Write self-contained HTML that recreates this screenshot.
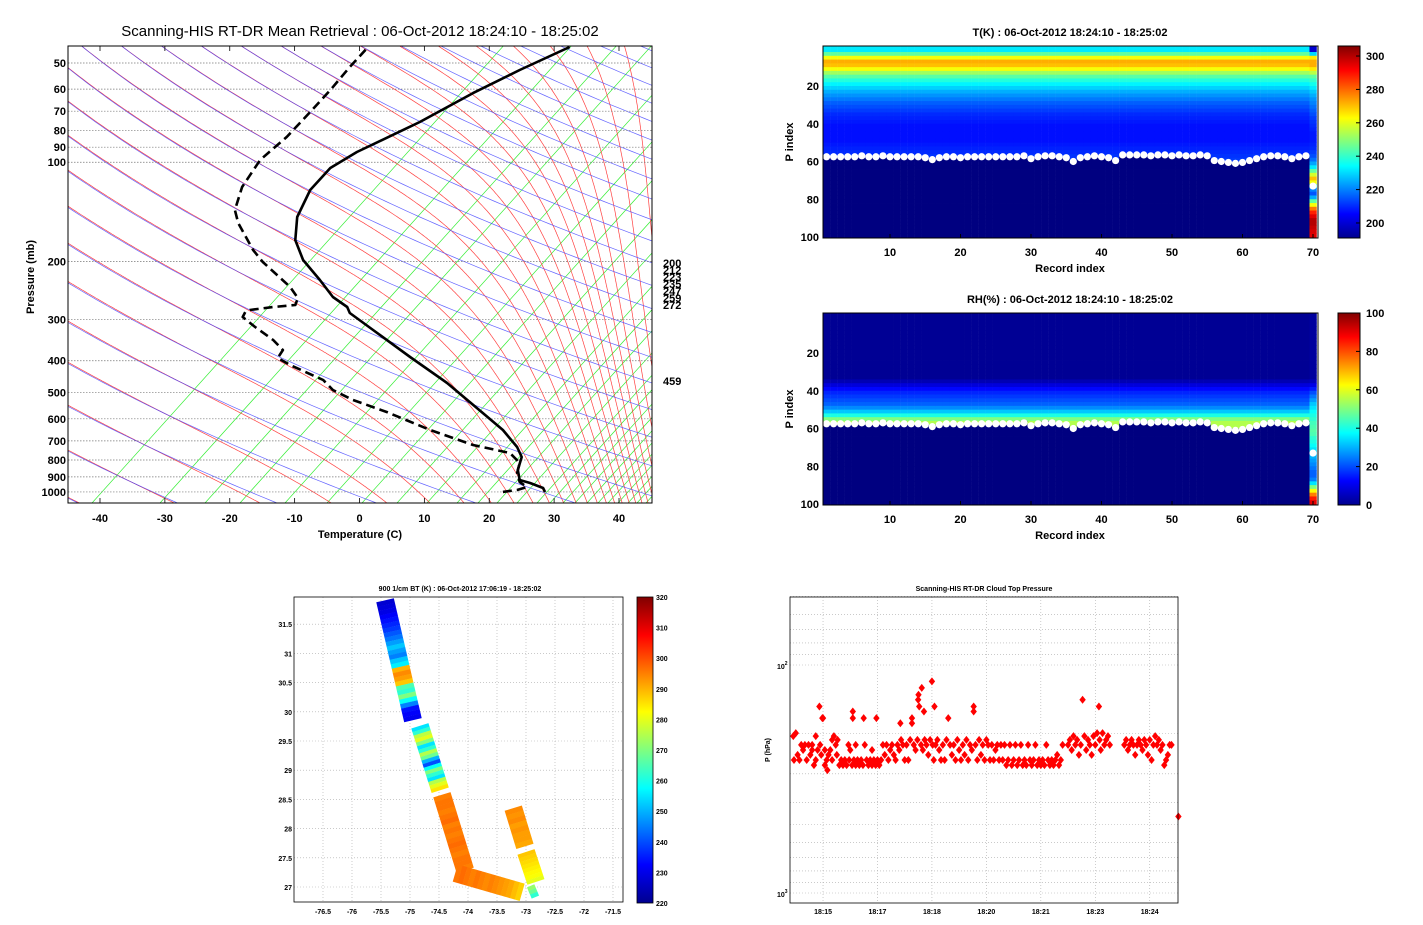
<!DOCTYPE html>
<html><head><meta charset="utf-8">
<style>
html,body{margin:0;padding:0;background:#fff;}
svg{display:block;font-family:"Liberation Sans",sans-serif;}
.tk{font-size:11px;font-weight:bold;fill:#000;}
.sm{font-size:7px;font-weight:bold;fill:#000;}
</style></head>
<body>
<svg id="fig" width="1423" height="925" viewBox="0 0 1423 925" xmlns="http://www.w3.org/2000/svg">
<defs>
<linearGradient id="jet" x1="0" y1="1" x2="0" y2="0">
<stop offset="0" stop-color="#00008f"/><stop offset="0.125" stop-color="#0000ff"/><stop offset="0.375" stop-color="#00ffff"/><stop offset="0.625" stop-color="#ffff00"/><stop offset="0.875" stop-color="#ff0000"/><stop offset="1" stop-color="#800000"/>
</linearGradient>
<clipPath id="cSkew"><rect x="68" y="46" width="584" height="457"/></clipPath>
<clipPath id="cMap"><rect x="294" y="597" width="329" height="305"/></clipPath>
</defs>
<text x="360" y="36" text-anchor="middle" font-size="15">Scanning-HIS RT-DR Mean Retrieval : 06-Oct-2012 18:24:10 - 18:25:02</text>
<g id="skew"></g>
<g id="theat"></g>
<g id="rhheat"></g>
<g id="map"></g>
<g id="ctp"></g>
</svg>
<script>
// ---------- DATA ----------
// Skew-T: pressure (mb) and plotted temperature axis value (C)
const tempP = [1000,972.8,939.2,919.7,857.9,783.4,730.7,648.9,576.3,467.2,389.7,322.7,286.6,274.8,256.3,227.6,197.9,172.2,146.6,121.4,104.1,93.1,75.5,61.7,52.5,44.7];
const tempT = [28.6,28.3,26.3,24.7,24.4,25.0,24.3,22.1,19.0,13.5,7.8,2.1,-1.5,-1.9,-4.1,-6.1,-8.7,-9.9,-9.6,-7.6,-4.5,-0.4,9.3,17.5,24.7,32.4];
const dewP = [1000,986.5,966,932.6,876.1,817,762,720.6,648.9,572.3,526.3,490.8,457.5,412.1,392.5,371.1,346,316,294.7,284.6,280.7,274.8,271,258.1,238.9,200.7,184.6,152.9,139.6,118.9,98.4,83.8,70.4,60.4,51.4,45];
const dewT = [22.1,24.3,25.8,24.7,24.3,24.7,23.2,17.5,10.9,4.2,-1.0,-4.1,-5.6,-10.7,-12.6,-11.8,-13.3,-16.1,-18.0,-17.6,-16.9,-13.3,-9.9,-9.5,-10.7,-14.9,-16.4,-18.7,-19.2,-18.1,-15.3,-11.2,-7.6,-4.5,-1.5,1.2];
const pTicks = [50,60,70,80,90,100,200,300,400,500,600,700,800,900,1000];
const tTicks = [-40,-30,-20,-10,0,10,20,30,40];
const sideLabels = ["200","212","223","235","247","259","272"];
// T heatmap: temperature (K) per pair of P-index rows (rows 1-2, 3-4, ...)
const tProfile = [232,245,262,272,270,262,252,244,238,233,229,225,222,219,216,214,212,210,209,208,207,207,207,207,207,208,209,210,211,212];
// cloud-top P index per record 1..70
const cloudTop = [57.5,57.5,57.5,57.5,57.5,57,57.5,57.5,57,57.5,57.5,57.5,57.5,57.5,58,59,58,57.5,57.5,58,57.5,57.5,57.5,57.5,57.5,57.5,57.5,57.5,57,58.5,57.5,57,57,57.5,58,60,58,57.5,57,57.5,58,59.5,56.5,56.5,56.5,56.5,57,56.5,56.5,57,56.5,57,57,56.5,57,59.5,60,60.5,61,60.5,59.5,58.5,57.5,57,57,57.5,58.5,57.5,57,73];
// last record T profile (K) per pair of rows
const tLastCol = [200,230,265,272,272,265,255,245,240,236,232,228,225,222,220,218,216,214,212,211,210,209,208,208,208,209,210,212,214,218,224,232,245,258,270,262,240,220,215,225,245,262,278,288,295,300,300,298,296,295];
// RH (%) per pair of rows
const rhProfile = [2,2,2,2,2,2,2,2,2,2,2,2,2,2,2,2,2,5,9,13,16,18,20,22,26,32,40,50,55,55];
const rhLastCol = [3,3,3,3,3,3,3,3,3,3,3,3,3,3,3,3,3,6,10,15,20,24,28,32,35,38,40,42,44,45,46,45,42,40,38,35,32,30,28,26,24,22,22,25,35,50,62,75,85,90];
const recTicks = [10,20,30,40,50,60,70];
const pIdxTicks = [20,40,60,80,100];
// BT map: strips (lon/lat endpoints) and BT values (K) along each strip
const stripStart = [[-75.43,31.91],[-74.83,29.76],[-74.45,28.58],[-74.22,27.24],[-73.22,28.35],[-73.0,27.6],[-72.92,27.02]];
const stripEnd = [[-74.95,29.86],[-74.48,28.66],[-74.05,27.29],[-73.07,26.91],[-73.02,27.70],[-72.83,27.09],[-72.84,26.83]];
const stripBT = [
 [228,229,230,232,234,236,238,241,244,248,252,248,245,252,256,290,294,292,288,265,262,270,258,245,234,232,231],
 [255,262,276,280,270,255,262,275,268,250,240,258,270,262,255,275,280,285],
 [295,296,296,295,296,297,295,296,295,296,297,296,295,296,296,295],
 [296,297,296,295,296,295,294,295,294,293,292,291,289,287],
 [294,293,294,292,293,292,292,291],
 [288,287,286,285,284,283,282,280],
 [272,268,262]];
const lonTicks = [-76.5,-76,-75.5,-75,-74.5,-74,-73.5,-73,-72.5,-72,-71.5];
const latTicks = [27,27.5,28,28.5,29,29.5,30,30.5,31,31.5];
const btTicks = [220,230,240,250,260,270,280,290,300,310,320];
// Cloud top pressure: time (minutes after 18:00) and pressure (hPa)
const ctpTime = [14.18,14.25,14.2,14.3,14.35,14.4,14.45,14.5,14.55,14.6,14.65,14.7,14.75,14.7,14.8,14.8,14.85,14.9,14.92,14.95,14.98,15.0,15.05,15.05,15.1,15.12,15.15,15.2,15.25,15.25,15.3,15.35,15.38,15.4,
15.45,15.5,15.55,15.6,15.65,15.7,15.72,15.75,15.8,15.82,15.82,15.85,15.9,15.9,15.95,16.0,16.05,16.1,16.12,16.15,16.2,16.25,16.3,16.35,16.35,16.4,16.45,16.47,16.5,16.55,16.6,
16.65,16.7,16.75,16.8,16.85,16.9,16.95,17.0,17.05,17.1,17.13,17.15,17.2,17.25,17.3,17.35,17.4,17.45,17.45,17.5,17.55,17.6,17.62,17.63,17.65,17.7,17.72,17.75,17.78,17.8,17.85,17.9,17.95,18.0,18.02,18.05,18.07,18.1,18.15,18.2,18.25,
18.3,18.35,18.4,18.45,18.5,18.55,18.6,18.65,18.7,18.75,18.8,18.85,18.9,18.95,19.0,19.05,19.1,19.15,19.15,19.2,19.25,19.3,19.35,19.4,19.45,19.5,19.55,19.6,19.65,19.7,19.75,19.8,19.85,19.9,
19.95,20.0,20.05,20.1,20.15,20.2,20.25,20.3,20.35,20.4,20.45,20.5,20.55,20.6,20.65,20.7,20.75,20.8,20.85,20.9,20.95,21.0,21.05,21.1,21.15,21.2,21.25,21.3,21.35,21.4,21.45,21.5,21.55,21.6,
21.75,21.8,21.85,21.9,21.95,22.0,22.05,22.1,22.15,22.2,22.25,22.3,22.35,22.4,22.45,22.5,22.55,22.6,22.62,22.65,22.7,22.75,22.8,22.85,22.9,
23.3,23.35,23.4,23.45,23.5,23.55,23.6,23.65,23.7,23.75,23.8,23.85,23.9,23.95,24.0,24.05,24.1,24.15,24.2,24.25,24.3,24.35,24.4,24.45,24.5,24.55,24.6,24.79];
const ctpPres = [205,199,261,248,261,224,236,224,261,224,248,236,275,224,205,261,236,152,224,248,171,171,275,236,261,289,248,236,261,213,205,224,248,213,
275,261,275,261,275,224,261,236,275,171,160,261,224,275,261,275,261,275,171,224,261,275,261,275,236,261,275,171,261,275,261,
224,248,224,261,236,224,248,261,224,236,180,213,224,261,224,261,213,171,180,224,236,213,142,135,152,224,126,236,160,213,224,248,213,118,224,261,152,224,213,236,261,
224,261,213,171,224,248,224,261,213,236,261,224,248,213,261,224,236,152,160,224,261,213,248,224,261,213,224,261,224,261,236,224,261,224,
261,224,275,261,224,275,261,224,275,261,224,275,261,275,224,261,275,261,224,275,261,275,261,275,224,261,275,261,275,261,248,275,261,224,
224,213,236,205,224,213,248,224,142,205,236,213,224,248,205,224,199,152,213,236,199,224,213,205,224,
224,213,236,224,213,224,248,224,213,224,236,213,224,248,213,261,224,205,224,213,236,224,275,261,248,224,224,462];
const timeTicks = [15,16.5,18,19.5,21,22.5,24];
const timeTickLabels = ["18:15","18:17","18:18","18:20","18:21","18:23","18:24"];

// ---------- HELPERS ----------
const NS="http://www.w3.org/2000/svg";
function mk(parent,tag,attrs){const e=document.createElementNS(NS,tag);for(const k in attrs)e.setAttribute(k,attrs[k]);parent.appendChild(e);return e;}
function jet(t){t=Math.max(0,Math.min(1,t));const c=v=>Math.round(255*Math.max(0,Math.min(1,v)));
 return `rgb(${c(1.5-Math.abs(4*t-3))},${c(1.5-Math.abs(4*t-2))},${c(1.5-Math.abs(4*t-1))})`;}

// ---------- SKEW-T ----------
const sk=document.getElementById('skew');
const SKEW=47;
const sx=t=>100+(t+40)*6.4875;
const sy=p=>63+329.7*(Math.log10(p)-Math.log10(50));
const plotX=(T,p)=>sx(T+SKEW*Math.log10(1000/p));
const bg=mk(sk,'g',{'clip-path':'url(#cSkew)'});


const pres=[];for(let lp=Math.log10(1090);lp>=Math.log10(42);lp-=0.01)pres.push(Math.pow(10,lp));
// green isotherm-like guide lines, positions at bottom edge
const gBottom=[92,160,205,240,285,327,362,397,427,457,478,497,517,537,550,563,575,587,598,608,618,628,637,646,655,664,673,682,691,700];
gBottom.forEach(xb=>{
 const d=`M${xb},503L${xb+0.9*460},43`;
 const l=mk(bg,'path',{d:d,stroke:'#33ee33','stroke-width':0.7,fill:'none'});
 
 
});
// moist adiabats: start at top coinciding with each dry adiabat, integrate downward
function es(Tc){return 6.112*Math.exp(17.67*Tc/(Tc+243.5));}
function rs(Tk,p){const e=es(Tk-273.15);return 0.622*e/(p-e);}
function dTdp(Tk,p){const r=rs(Tk,p);return (287*Tk+2.5e6*r)/(p*(1004+2.5e6*2.5e6*r*0.622/(287*Tk*Tk)));}
const thetas=[];for(let th=196.3;th<=760;th+=15)thetas.push(th);
thetas.forEach(th=>{
 let p=42,Tk=th*Math.pow(p/1000,0.286),pts=[];
 while(p<1092){pts.push(`${plotX(Tk-273.15,p).toFixed(1)},${sy(p).toFixed(1)}`);Tk+=dTdp(Tk,p)*1;p+=1;}
 const l=mk(bg,'path',{d:'M'+pts.join('L'),stroke:'#ff4040','stroke-width':0.7,fill:'none'});
 
 
});
// dry adiabats
thetas.forEach(th=>{
 const pts=pres.map(p=>`${plotX(th*Math.pow(p/1000,0.286)-273.15,p).toFixed(1)},${sy(p).toFixed(1)}`);
 const l=mk(bg,'path',{d:'M'+pts.join('L'),stroke:'#4a4aff','stroke-width':0.7,fill:'none','stroke-opacity':0.85});
 
 
});
// pressure grid + labels
pTicks.forEach(p=>{
 const g=mk(sk,'line',{x1:68,x2:652,y1:sy(p),y2:sy(p),stroke:'#777','stroke-width':0.7,'stroke-dasharray':'1.5,1.5'});
 
 
 const t=mk(sk,'text',{x:66,y:sy(p)+4,'text-anchor':'end',class:'tk'});t.textContent=p;
 
 
});
tTicks.forEach(T=>{
 mk(sk,'line',{x1:sx(T),x2:sx(T),y1:503,y2:498,stroke:'#000','stroke-width':0.8});
 mk(sk,'line',{x1:sx(T),x2:sx(T),y1:46,y2:51,stroke:'#000','stroke-width':0.8});
 const t=mk(sk,'text',{x:sx(T),y:522,'text-anchor':'middle',class:'tk'});t.textContent=T;
 
 
});
const fr=mk(sk,'rect',{x:68,y:46,width:584,height:457,fill:'none',stroke:'#000','stroke-width':1});


const prof=mk(sk,'g',{'clip-path':'url(#cSkew)'});
const tl=mk(prof,'path',{d:'M'+tempP.map((p,i)=>`${sx(tempT[i]).toFixed(1)},${sy(p).toFixed(1)}`).join('L'),stroke:'#000','stroke-width':2.6,fill:'none','stroke-linejoin':'round'});


const dl=mk(prof,'path',{d:'M'+dewP.map((p,i)=>`${sx(dewT[i]).toFixed(1)},${sy(p).toFixed(1)}`).join('L'),stroke:'#000','stroke-width':2.6,fill:'none','stroke-dasharray':'9,5','stroke-linejoin':'round'});


sideLabels.forEach((s,i)=>{const t=mk(sk,'text',{x:663,y:267+i*7,class:'tk'});t.textContent=s;
 
 });
{const t=mk(sk,'text',{x:663,y:385,class:'tk'});t.textContent='459';
 
 }
{const t=mk(sk,'text',{x:360,y:538,'text-anchor':'middle',class:'tk','font-size':12});t.textContent='Temperature (C)';
 
 }
{const t=mk(sk,'text',{x:0,y:0,'text-anchor':'middle',class:'tk',transform:'translate(34,277) rotate(-90)'});t.textContent='Pressure (mb)';
 
 }

// ---------- HEATMAPS ----------
function heatmap(gid,top,title,profile,lastCol,vmin,vmax,cbTicks,cbTop,cbBot,maskVal,ylab){
 const g=document.getElementById(gid);
 const xr=i=>890+(i-10)*7.05;
 const yr=i=>top+2.25+i*1.8875;
 const bot=top+192;
 for(let c=1;c<=70;c++){
  for(let k=0;k<50;k++){
   const r0=k*2+1;
   let v;
   if(c<70){v=(r0>=cloudTop[c-1]||k>=profile.length)?maskVal:profile[k];}else{v=lastCol[k];}
   const y0=k===0?top:yr(r0-1), y1=k===49?bot:yr(r0+1);
   const cell=mk(g,'rect',{x:xr(c-0.5).toFixed(2),y:y0.toFixed(2),width:7.3,height:(y1-y0+0.4).toFixed(2),fill:jet((v-vmin)/(vmax-vmin))});
   
   
  }
 }
 for(let c=1;c<=70;c++){
  const d=mk(g,'circle',{cx:xr(c),cy:yr(cloudTop[c-1]),r:3.6,fill:'#fff'});
  
  
 }
 const f=mk(g,'rect',{x:823,y:top,width:495,height:192,fill:'none',stroke:'#000','stroke-width':1});
 
 
 recTicks.forEach(r=>{mk(g,'line',{x1:xr(r),x2:xr(r),y1:bot,y2:bot-4,stroke:'#000'});
  const t=mk(g,'text',{x:xr(r),y:bot+18,'text-anchor':'middle',class:'tk'});t.textContent=r;
  
  });
 pIdxTicks.forEach(p=>{const t=mk(g,'text',{x:819,y:yr(p)+4,'text-anchor':'end',class:'tk'});t.textContent=p;
  
  });
 const tt=mk(g,'text',{x:1070,y:top-10,'text-anchor':'middle',class:'tk'});tt.textContent=title;
 
 
 const xl=mk(g,'text',{x:1070,y:bot+34,'text-anchor':'middle',class:'tk','font-size':12});xl.textContent='Record index';
 
 
 const yl=mk(g,'text',{x:0,y:0,'text-anchor':'middle',class:'tk',transform:`translate(793,${top+96}) rotate(-90)`});yl.textContent=ylab;
 
 
 const cb=mk(g,'rect',{x:1338,y:top,width:22,height:192,fill:'url(#jet)',stroke:'#000','stroke-width':1});
 
 
 cbTicks.forEach(v=>{const y=cbBot+(cbTop-cbBot)*(v-vmin)/(vmax-vmin);
  mk(g,'line',{x1:1356,x2:1360,y1:y,y2:y,stroke:'#000'});
  const t=mk(g,'text',{x:1366,y:y+4,class:'tk'});t.textContent=v;
  
  });
}
heatmap('theat',46,'T(K) : 06-Oct-2012 18:24:10 - 18:25:02',tProfile,tLastCol,191,306,[200,220,240,260,280,300],46,238,191,'P index');
heatmap('rhheat',313,'RH(%) : 06-Oct-2012 18:24:10 - 18:25:02',rhProfile,rhLastCol,0,100,[0,20,40,60,80,100],313,505,0,'P index');

// ---------- BT MAP ----------
const mp=document.getElementById('map');
const mx=lon=>323+(lon+76.5)*58;
const my=lat=>887-(lat-27)*58.4;
lonTicks.forEach(l=>{const g=mk(mp,'line',{x1:mx(l),x2:mx(l),y1:597,y2:902,stroke:'#aaa','stroke-width':0.6,'stroke-dasharray':'1,2'});
 
 
 const t=mk(mp,'text',{x:mx(l),y:914,'text-anchor':'middle',class:'sm'});t.textContent=l;
 
 });
latTicks.forEach(l=>{const g=mk(mp,'line',{x1:294,x2:623,y1:my(l),y2:my(l),stroke:'#aaa','stroke-width':0.6,'stroke-dasharray':'1,2'});
 
 
 const t=mk(mp,'text',{x:292,y:my(l)+3,'text-anchor':'end',class:'sm'});t.textContent=l;
 
 });
const swg=mk(mp,'g',{'clip-path':'url(#cMap)'});
stripStart.forEach((s,i)=>{
 const x0=mx(s[0]),y0=my(s[1]),x1=mx(stripEnd[i][0]),y1=my(stripEnd[i][1]);
 const L=Math.hypot(x1-x0,y1-y0),ux=(x1-x0)/L,uy=(y1-y0)/L,w=(i===6?4:9);
 const nx=-uy*w,ny=ux*w,vals=stripBT[i],n=vals.length;
 vals.forEach((v,k)=>{
  const a=k/n,b=(k+1.05)/n;
  const ax=x0+(x1-x0)*a,ay=y0+(y1-y0)*a,bx=x0+(x1-x0)*b,by=y0+(y1-y0)*b;
  const q=mk(swg,'polygon',{points:`${ax+nx},${ay+ny} ${bx+nx},${by+ny} ${bx-nx},${by-ny} ${ax-nx},${ay-ny}`,fill:jet((v-220)/100)});
  
  
 });
});
{const f=mk(mp,'rect',{x:294,y:597,width:329,height:305,fill:'none',stroke:'#000','stroke-width':0.8});
 
 
 const t=mk(mp,'text',{x:460,y:591,'text-anchor':'middle',class:'sm'});t.textContent='900 1/cm BT (K) : 06-Oct-2012 17:06:19 - 18:25:02';
 
 
 const cb=mk(mp,'rect',{x:637,y:597,width:16,height:306,fill:'url(#jet)',stroke:'#000','stroke-width':0.8});
 
 }
btTicks.forEach(v=>{const y=903-306*(v-220)/100;
 const t=mk(mp,'text',{x:656,y:y+3,class:'sm'});t.textContent=v;
 
 });

// ---------- CLOUD TOP PRESSURE ----------
const cp=document.getElementById('ctp');
const cx=m=>790+(m-14.09)*36.3;
const cy=p=>665+228*(Math.log10(p)-2);
[50,60,70,80,90,100,200,300,400,500,600,700,800,900,1000].forEach(p=>{
 const g=mk(cp,'line',{x1:790,x2:1178,y1:cy(p),y2:cy(p),stroke:'#aaa','stroke-width':0.6,'stroke-dasharray':'1,2'});
 
 });
timeTicks.forEach((m,i)=>{const g=mk(cp,'line',{x1:cx(m),x2:cx(m),y1:597,y2:903,stroke:'#aaa','stroke-width':0.6,'stroke-dasharray':'1,2'});
 
 
 const t=mk(cp,'text',{x:cx(m),y:914,'text-anchor':'middle',class:'sm'});t.textContent=timeTickLabels[i];
 
 });
ctpTime.forEach((m,i)=>{const x=cx(m),y=cy(ctpPres[i]);
 const d=mk(cp,'polygon',{points:`${x},${y-4} ${x+3.2},${y} ${x},${y+4} ${x-3.2},${y}`,fill:'#ff0000'});
 
 });
{const f=mk(cp,'rect',{x:790,y:597,width:388,height:306,fill:'none',stroke:'#000','stroke-width':0.8});
 
 
 const t=mk(cp,'text',{x:984,y:591,'text-anchor':'middle',class:'sm'});t.textContent='Scanning-HIS RT-DR Cloud Top Pressure';
 
 
 const a=mk(cp,'text',{x:777,y:669,class:'sm'});a.innerHTML='10<tspan dy="-4" font-size="5">2</tspan>';
 
 
 const b=mk(cp,'text',{x:777,y:897,class:'sm'});b.innerHTML='10<tspan dy="-4" font-size="5">3</tspan>';
 
 
 const yl=mk(cp,'text',{x:0,y:0,'text-anchor':'middle',class:'sm',transform:'translate(770,750) rotate(-90)'});yl.textContent='P (hPa)';
 
 }
</script>
</body></html>
